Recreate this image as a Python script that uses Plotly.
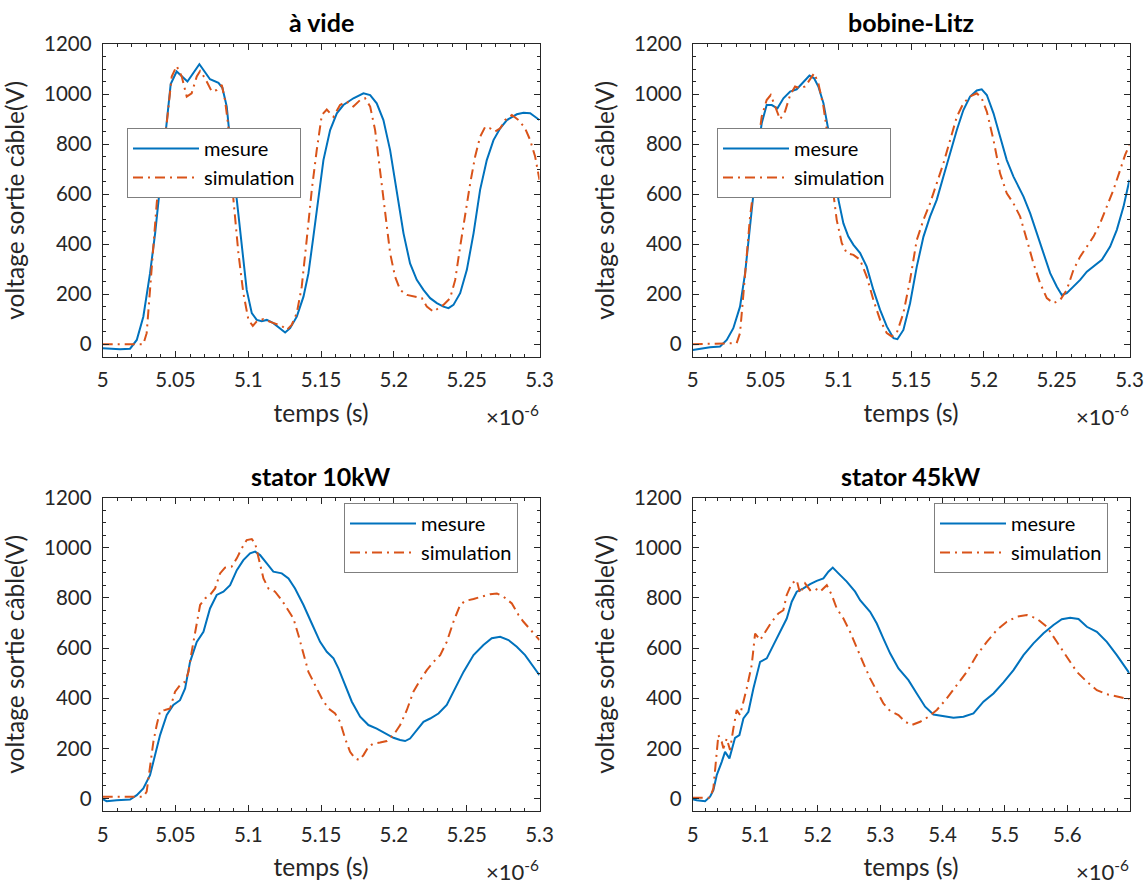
import plotly.graph_objects as go
from plotly.subplots import make_subplots

# ---------------- data (time in units of 1e-6 s, voltage in V) ----------------
titles = ["à vide", "bobine-Litz", "stator 10kW", "stator 45kW"]
series_names = ["mesure", "simulation"]

# à vide
t_vide_mes = [5.0000,5.0050,5.0119,5.0188,5.0234,5.0279,5.0325,5.0360,5.0394,5.0428,5.0467,5.0508,5.0582,5.0664,5.0737,5.0795,5.0822,5.0852,5.0886,5.0921,5.0955,5.0989,5.1024,5.1058,5.1092,5.1127,5.1172,5.1218,5.1253,5.1287,5.1333,5.1379,5.1413,5.1447,5.1482,5.1516,5.1562,5.1608,5.1653,5.1722,5.1791,5.1837,5.1882,5.1928,5.1974,5.2020,5.2066,5.2111,5.2157,5.2203,5.2249,5.2295,5.2340,5.2375,5.2409,5.2455,5.2501,5.2547,5.2592,5.2638,5.2684,5.2730,5.2776,5.2844,5.2890,5.2936,5.3000]
v_vide_mes = [-16,-18,-20,-18,17,110,283,443,630,830,1040,1090,1050,1119,1059,1045,1025,950,750,577,390,217,124,97,92,97,84,64,47,64,110,190,283,430,590,736,856,923,956,983,1003,996,963,896,776,604,443,323,257,217,184,164,150,144,157,204,297,443,617,736,816,863,896,919,925,923,896]
t_vide_sim = [5.0000,5.0279,5.0302,5.0325,5.0348,5.0371,5.0405,5.0440,5.0474,5.0508,5.0543,5.0577,5.0611,5.0646,5.0669,5.0703,5.0749,5.0783,5.0818,5.0840,5.0863,5.0882,5.0898,5.0932,5.0966,5.1001,5.1031,5.1058,5.1104,5.1161,5.1230,5.1264,5.1298,5.1333,5.1367,5.1401,5.1436,5.1470,5.1505,5.1539,5.1585,5.1630,5.1676,5.1722,5.1768,5.1802,5.1837,5.1871,5.1905,5.1940,5.1974,5.2008,5.2043,5.2089,5.2146,5.2192,5.2226,5.2272,5.2306,5.2340,5.2386,5.2421,5.2455,5.2489,5.2524,5.2558,5.2592,5.2627,5.2661,5.2695,5.2730,5.2764,5.2810,5.2856,5.2901,5.2936,5.2970,5.3000]
v_vide_sim = [0,0,44,230,403,563,760,883,1070,1112,1070,990,1003,1070,1092,1063,1010,1016,1036,976,870,720,577,364,204,97,73,91,100,87,73,57,77,124,230,417,617,776,916,938,909,956,970,950,976,983,950,856,697,510,364,270,217,197,190,184,150,130,144,157,184,257,390,523,643,750,829,869,863,850,863,896,916,896,863,816,750,657]

# bobine-Litz
t_litz_mes = [5.0000,5.0073,5.0119,5.0188,5.0234,5.0279,5.0325,5.0360,5.0394,5.0424,5.0451,5.0474,5.0508,5.0543,5.0582,5.0623,5.0669,5.0714,5.0760,5.0802,5.0834,5.0863,5.0898,5.0932,5.0966,5.1001,5.1035,5.1069,5.1104,5.1150,5.1195,5.1241,5.1287,5.1333,5.1379,5.1406,5.1447,5.1493,5.1539,5.1585,5.1630,5.1676,5.1722,5.1768,5.1814,5.1859,5.1905,5.1951,5.1985,5.2020,5.2066,5.2111,5.2157,5.2203,5.2272,5.2318,5.2363,5.2409,5.2455,5.2501,5.2535,5.2569,5.2615,5.2661,5.2707,5.2753,5.2810,5.2867,5.2913,5.2959,5.3000]
v_litz_mes = [-23,-16,-12,-9,17,64,150,284,483,643,790,883,956,956,943,983,1010,1019,1050,1074,1063,1030,963,856,710,577,483,430,397,364,310,217,137,71,24,20,57,164,310,430,510,577,670,763,856,936,990,1014,1019,996,923,830,736,670,590,523,443,364,284,230,197,204,230,257,290,310,337,390,457,550,657]
t_litz_sim = [5.0000,5.0302,5.0325,5.0348,5.0371,5.0394,5.0417,5.0440,5.0474,5.0508,5.0536,5.0566,5.0600,5.0634,5.0669,5.0703,5.0737,5.0772,5.0802,5.0834,5.0863,5.0898,5.0921,5.0944,5.0966,5.0989,5.1024,5.1058,5.1104,5.1150,5.1195,5.1241,5.1287,5.1333,5.1367,5.1401,5.1447,5.1493,5.1539,5.1585,5.1630,5.1676,5.1722,5.1768,5.1814,5.1859,5.1905,5.1951,5.1985,5.2020,5.2066,5.2111,5.2157,5.2203,5.2249,5.2295,5.2340,5.2386,5.2432,5.2478,5.2524,5.2569,5.2615,5.2661,5.2707,5.2753,5.2798,5.2844,5.2890,5.2936,5.2970,5.3000]
v_litz_sim = [0,4,44,190,364,510,617,763,910,976,996,950,899,930,996,1030,1023,1030,1056,1083,1043,950,856,723,603,497,404,364,357,337,270,177,97,44,31,44,124,257,417,497,563,643,723,816,909,963,990,1003,983,930,816,683,603,563,510,417,324,244,184,164,177,217,297,350,390,430,483,550,617,697,757,797]

# stator 10kW
t_s10_mes = [5.0000,5.0027,5.0096,5.0188,5.0234,5.0279,5.0325,5.0360,5.0394,5.0440,5.0485,5.0531,5.0566,5.0600,5.0646,5.0692,5.0737,5.0783,5.0829,5.0875,5.0921,5.0966,5.1012,5.1047,5.1081,5.1127,5.1172,5.1230,5.1276,5.1321,5.1379,5.1436,5.1493,5.1539,5.1585,5.1619,5.1665,5.1711,5.1768,5.1825,5.1882,5.1940,5.1997,5.2043,5.2077,5.2111,5.2157,5.2203,5.2249,5.2306,5.2363,5.2421,5.2478,5.2547,5.2615,5.2672,5.2730,5.2787,5.2844,5.2901,5.2959,5.3000]
v_s10_mes = [-3,-11,-7,-4,13,40,93,173,253,333,373,392,439,545,625,665,758,812,825,851,911,951,978,985,971,938,905,898,878,838,772,698,625,585,559,519,452,386,326,293,279,259,242,233,229,239,273,306,319,339,373,439,505,572,612,639,645,632,605,572,525,492]
t_s10_sim = [5.0000,5.0279,5.0302,5.0325,5.0348,5.0371,5.0394,5.0428,5.0463,5.0497,5.0531,5.0566,5.0589,5.0611,5.0646,5.0669,5.0703,5.0737,5.0772,5.0806,5.0840,5.0886,5.0921,5.0955,5.0989,5.1024,5.1047,5.1069,5.1104,5.1138,5.1184,5.1230,5.1276,5.1310,5.1344,5.1379,5.1413,5.1459,5.1505,5.1550,5.1596,5.1630,5.1665,5.1699,5.1734,5.1763,5.1791,5.1825,5.1859,5.1905,5.1951,5.1997,5.2043,5.2089,5.2134,5.2180,5.2226,5.2272,5.2318,5.2363,5.2409,5.2455,5.2489,5.2547,5.2604,5.2661,5.2707,5.2753,5.2810,5.2856,5.2890,5.2936,5.2970,5.3000]
v_s10_sim = [7,7,27,120,226,293,349,353,359,426,452,466,505,585,705,772,798,812,838,898,921,925,958,998,1031,1035,1018,965,878,838,825,791,751,718,652,572,505,452,399,359,339,306,239,186,160,153,173,206,219,223,229,253,293,353,426,472,512,545,572,625,705,772,788,796,805,815,818,805,778,732,705,672,652,632]

# stator 45kW
t_s45_mes = [5.0000,5.0064,5.0198,5.0278,5.0331,5.0385,5.0465,5.0518,5.0588,5.0641,5.0678,5.0748,5.0812,5.0892,5.0972,5.1079,5.1186,5.1292,5.1399,5.1506,5.1586,5.1666,5.1773,5.1880,5.1986,5.2093,5.2173,5.2243,5.2334,5.2467,5.2601,5.2681,5.2841,5.2948,5.3054,5.3161,5.3295,5.3455,5.3588,5.3722,5.3855,5.4016,5.4176,5.4336,5.4496,5.4656,5.4817,5.4977,5.5137,5.5297,5.5457,5.5618,5.5778,5.5911,5.6045,5.6178,5.6312,5.6472,5.6632,5.6792,5.6899,5.6995]
v_s45_mes = [-3,-7,-11,7,33,93,146,186,160,213,242,253,319,346,439,545,559,612,665,718,785,825,838,855,868,878,905,921,898,865,825,791,745,698,638,579,519,472,419,366,335,330,322,326,339,386,419,463,512,572,619,659,692,715,721,716,685,665,625,572,532,499]
t_s45_sim = [5.0000,5.0278,5.0331,5.0385,5.0411,5.0465,5.0491,5.0545,5.0598,5.0651,5.0705,5.0758,5.0812,5.0865,5.0945,5.0999,5.1079,5.1159,5.1266,5.1372,5.1452,5.1506,5.1586,5.1666,5.1719,5.1800,5.1880,5.1960,5.2040,5.2147,5.2227,5.2307,5.2414,5.2520,5.2627,5.2734,5.2841,5.2948,5.3054,5.3161,5.3295,5.3402,5.3508,5.3642,5.3775,5.3909,5.4069,5.4229,5.4389,5.4550,5.4710,5.4870,5.5030,5.5190,5.5351,5.5511,5.5671,5.5831,5.5991,5.6152,5.6312,5.6472,5.6632,5.6792,5.6899,5.6995]
v_s45_sim = [3,3,40,200,253,226,200,239,193,279,353,333,386,439,532,658,632,665,705,738,751,812,858,871,818,858,831,838,825,851,812,758,718,665,599,539,479,426,379,349,333,306,293,306,326,353,399,452,505,572,625,672,705,725,732,718,685,625,566,505,466,432,416,406,399,396]

x_ticks_short = [5, 5.05, 5.1, 5.15, 5.2, 5.25, 5.3]
x_ticks_long = [5, 5.1, 5.2, 5.3, 5.4, 5.5, 5.6]
y_ticks = [0, 200, 400, 600, 800, 1000, 1200]

panels = [
    (t_vide_mes, v_vide_mes, t_vide_sim, v_vide_sim),
    (t_litz_mes, v_litz_mes, t_litz_sim, v_litz_sim),
    (t_s10_mes, v_s10_mes, t_s10_sim, v_s10_sim),
    (t_s45_mes, v_s45_mes, t_s45_sim, v_s45_sim),
]

# ---------------- figure ----------------
W, H = 1148, 886
BLUE = "#0072BD"
ORANGE = "#D95319"
AX = "#262626"
FONT = "Lato"

fig = make_subplots(rows=2, cols=2)

# pixel boxes of the four axes in window pixels (left, right, top, bottom)
boxes = [(102.7, 539.5, 44, 356.7), (692.7, 1129.5, 44, 356.7),
         (102.7, 539.5, 497.7, 811), (692.7, 1129.5, 497.7, 811)]
legend_pos = [(127, 128), (717, 128), (344, 503), (934, 503)]


def px(xw):
    return xw / W


def py(yw):
    return 1 - yw / H


for i, (tm, vm, ts, vs) in enumerate(panels):
    r, c = i // 2 + 1, i % 2 + 1
    leg = "legend" if i == 0 else f"legend{i+1}"
    fig.add_trace(go.Scatter(x=tm, y=vm, mode="lines", name=series_names[0],
                             line=dict(color=BLUE, width=2), legend=leg,
                             legendgroup=f"m{i}"), row=r, col=c)
    fig.add_trace(go.Scatter(x=ts, y=vs, mode="lines", name=series_names[1],
                             line=dict(color=ORANGE, width=2, dash="10px,5px,2px,5px"),
                             legend=leg, legendgroup=f"s{i}"), row=r, col=c)

layout_upd = {}
annotations = []
for i in range(4):
    L, R, T, B = boxes[i]
    xk = "xaxis" if i == 0 else f"xaxis{i+1}"
    yk = "yaxis" if i == 0 else f"yaxis{i+1}"
    long = (i == 3)
    xt = x_ticks_long if long else x_ticks_short
    layout_upd[xk] = dict(
        domain=[px(L), px(R)], automargin=False,
        range=[5, 5.6995] if long else [5, 5.3],
        tickvals=xt, ticktext=[f"{v:g}" for v in xt],
        showline=True, linecolor=AX, linewidth=1, mirror="ticks",
        ticks="inside", ticklen=6, tickwidth=1, tickcolor=AX,
        minor=dict(ticks="inside", ticklen=3, tickcolor=AX, dtick=0.02 if long else 0.01, tick0=5),
        showgrid=False, zeroline=False,
        tickfont=dict(family=FONT, size=20.5, color=AX),
        ticklabelstandoff=5,
        title=dict(text="temps (s)", font=dict(family=FONT, size=24.5, color=AX), standoff=14),
    )
    layout_upd[yk] = dict(
        domain=[py(B), py(T)], automargin=False,
        range=[-50, 1200],
        tickvals=y_ticks,
        showline=True, linecolor=AX, linewidth=1, mirror="ticks",
        ticks="inside", ticklen=6, tickwidth=1, tickcolor=AX,
        minor=dict(ticks="inside", ticklen=3, tickcolor=AX, dtick=50, tick0=0),
        showgrid=False, zeroline=False,
        tickfont=dict(family=FONT, size=20.5, color=AX),
        ticklabelstandoff=6,
        title=dict(text="voltage sortie câble(V)", font=dict(family=FONT, size=24.5, color=AX), standoff=12),
    )
    # subplot title
    annotations.append(dict(text=f"<b>{titles[i]}</b>", xref="paper", yref="paper",
                            x=px((L + R) / 2), y=py(T - 22), xanchor="center", yanchor="middle",
                            showarrow=False, font=dict(family=FONT, size=25, color="black")))
    # x exponent
    annotations.append(dict(text="×10<sup>-6</sup>", xref="paper", yref="paper",
                            x=px(R + 1), y=py(B + 59), xanchor="right", yanchor="middle",
                            showarrow=False, font=dict(family=FONT, size=22, color=AX)))
    lx, ly = legend_pos[i]
    lk = "legend" if i == 0 else f"legend{i+1}"
    layout_upd[lk] = dict(x=px(lx), y=py(ly), xanchor="left", yanchor="top",
                          xref="paper", yref="paper",
                          bgcolor="white", bordercolor="#7f7f7f", borderwidth=1,
                          font=dict(family=FONT, size=20, color="black"),
                          tracegroupgap=0, itemwidth=66)

fig.update_layout(**layout_upd)
fig.update_layout(width=W, height=H, margin=dict(l=0, r=0, t=0, b=0, autoexpand=False),
                  paper_bgcolor="white", plot_bgcolor="white",
                  annotations=annotations, showlegend=True)

# remove the browser's default page margin so the figure fills the window exactly
fig.write_html("out.html", config={"displayModeBar": False},
               post_script="document.body.style.margin='0';document.body.style.overflow='hidden';")
